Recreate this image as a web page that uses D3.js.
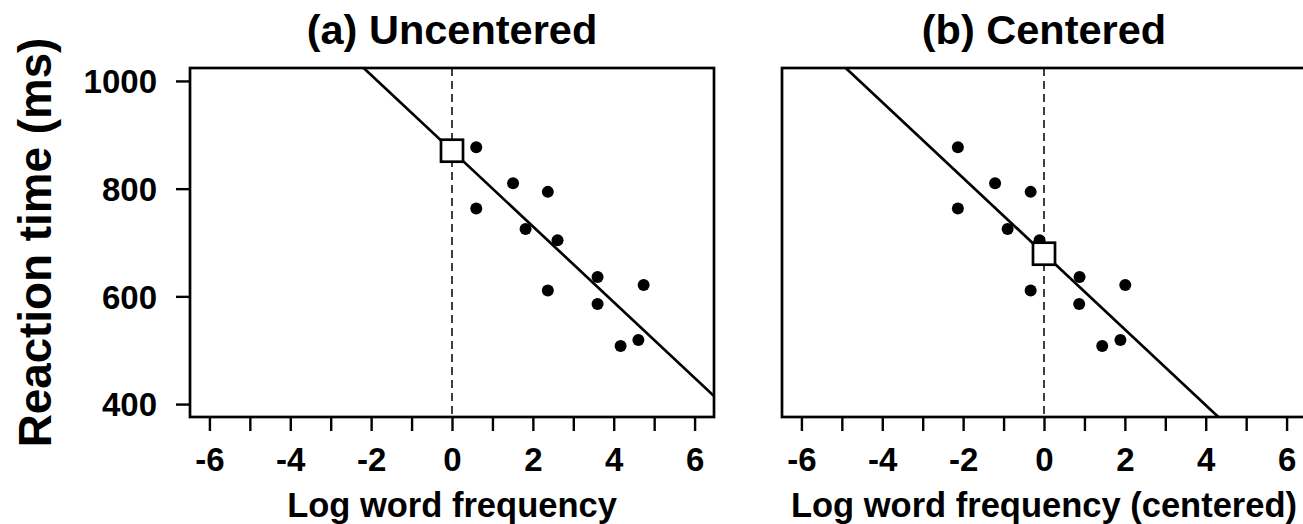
<!DOCTYPE html>
<html>
<head>
<meta charset="utf-8">
<script src="https://cdn.jsdelivr.net/npm/d3@7"></script>
<style>
    body { margin: 0; background: #fff; }
    svg { display: block; }
    text { font-family: "Liberation Sans", Arial, sans-serif; font-weight: bold; fill: #000; }
</style>
</head>
<body>
<script>
// values
var logFreq = [0.60, 1.51, 2.37, 0.60, 1.82, 2.61, 3.60, 4.74, 2.37, 3.60, 4.61, 4.17],
    logFreqCentered = [-2.13, -1.21, -0.33, -2.13, -0.90, -0.11, 0.88, 2.01, -0.33, 0.87, 1.89, 1.44],
    reactionTime = [877, 810, 794, 763, 725, 704, 636, 621, 611, 586, 519, 508],
    xTicks = [-6, -5, -4, -3, -2, -1, 0, 1, 2, 3, 4, 5, 6],
    xTickLabels = [-6, -4, -2, 0, 2, 4, 6],
    yTicks = [400, 600, 800, 1000],
    panelTitles = ["(a) Uncentered", "(b) Centered"],
    xLabels = ["Log word frequency", "Log word frequency (centered)"];

var width = 1303,
    height = 524,
    plotTop = 68,
    plotBottom = 417,
    panelW = 524,
    panelLeft = [190, 782],
    tickLen = 14,
    lw = 2.7;

var svg = d3.select("body").append("svg")
    .attr("width", width)
    .attr("height", height);

var y = d3.scaleLinear().domain([376, 1024]).range([plotBottom, plotTop]);

// least squares fit, the line shown in both panels
function fitLine(xs, ys) {
    var mx = d3.mean(xs),
        my = d3.mean(ys),
        sxy = d3.sum(xs, function(d, i) { return (d - mx) * (ys[i] - my); }),
        sxx = d3.sum(xs, function(d) { return (d - mx) * (d - mx); }),
        slope = sxy / sxx;
    return { slope: slope, intercept: my - slope * mx };
}

function drawPanel(idx, xs, ys, showY) {
    var left = panelLeft[idx],
        x = d3.scaleLinear().domain([-6.48, 6.48]).range([left, left + panelW]),
        g = svg.append("g"),
        fit = fitLine(xs, ys),
        clipId = "clip" + idx;

    svg.append("clipPath").attr("id", clipId)
        .append("rect")
        .attr("x", left).attr("y", plotTop)
        .attr("width", panelW).attr("height", plotBottom - plotTop);

    var inner = g.append("g").attr("clip-path", "url(#" + clipId + ")");

    // dashed vertical line at x = 0
    inner.append("line")
        .attr("x1", x(0)).attr("x2", x(0))
        .attr("y1", plotTop).attr("y2", plotBottom)
        .attr("stroke", "#000")
        .attr("stroke-width", 1.5)
        .attr("stroke-dasharray", "8,5");

    // regression line
    var xd = x.domain();
    inner.append("line")
        .attr("x1", x(xd[0])).attr("y1", y(fit.intercept + fit.slope * xd[0]))
        .attr("x2", x(xd[1])).attr("y2", y(fit.intercept + fit.slope * xd[1]))
        .attr("stroke", "#000")
        .attr("stroke-width", lw);

    inner.selectAll("circle")
        .data(xs)
        .enter().append("circle")
        .attr("cx", function(d) { return x(d); })
        .attr("cy", function(d, i) { return y(ys[i]); })
        .attr("r", 6)
        .attr("fill", "#000");

    // intercept marker
    var sq = 22;
    inner.append("rect")
        .attr("x", x(0) - sq / 2)
        .attr("y", y(fit.intercept) - sq / 2)
        .attr("width", sq).attr("height", sq)
        .attr("fill", "#fff")
        .attr("stroke", "#000")
        .attr("stroke-width", lw);

    // box
    g.append("rect")
        .attr("x", left).attr("y", plotTop)
        .attr("width", panelW).attr("height", plotBottom - plotTop)
        .attr("fill", "none")
        .attr("stroke", "#000")
        .attr("stroke-width", lw);

    // x axis
    var xAxis = d3.axisBottom(x)
        .tickValues(xTicks)
        .tickSize(tickLen)
        .tickFormat(function(d) { return xTickLabels.indexOf(d) >= 0 ? d : ""; });
    var xg = g.append("g")
        .attr("transform", "translate(0," + plotBottom + ")")
        .call(xAxis);
    xg.select(".domain").remove();
    xg.selectAll(".tick line").attr("stroke", "#000").attr("stroke-width", 2.4);
    xg.selectAll(".tick text")
        .attr("font-size", 33)
        .attr("font-family", null)
        .attr("dy", null)
        .attr("y", 54);

    g.append("text")
        .attr("x", left + panelW / 2)
        .attr("y", 517)
        .attr("text-anchor", "middle")
        .attr("font-size", 34.5)
        .text(xLabels[idx]);

    g.append("text")
        .attr("x", left + panelW / 2)
        .attr("y", 44)
        .attr("text-anchor", "middle")
        .attr("font-size", 41.5)
        .text(panelTitles[idx]);

    if (showY) {
        var yAxis = d3.axisLeft(y)
            .tickValues(yTicks)
            .tickSize(tickLen)
            .tickPadding(19)
            .tickFormat(d3.format("d"));
        var yg = g.append("g")
            .attr("transform", "translate(" + left + ",0)")
            .call(yAxis);
        yg.select(".domain").remove();
        yg.selectAll(".tick line").attr("stroke", "#000").attr("stroke-width", 2.4);
        yg.selectAll(".tick text")
            .attr("font-size", 33)
            .attr("font-family", null)
            .attr("dy", "0.36em");
    }
}

drawPanel(0, logFreq, reactionTime, true);
drawPanel(1, logFreqCentered, reactionTime, false);

svg.append("text")
    .attr("transform", "translate(51," + ((plotTop + plotBottom) / 2) + ") rotate(-90)")
    .attr("text-anchor", "middle")
    .attr("font-size", 45.8)
    .text("Reaction time (ms)");
</script>
</body>
</html>
